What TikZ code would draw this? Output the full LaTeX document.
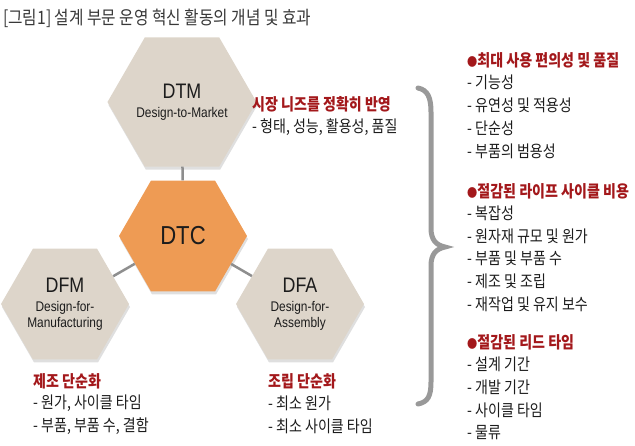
\documentclass[tikz,border=0pt]{standalone}
\usepackage{fontspec}
\setmainfont{Noto Sans CJK KR}[FakeStretch=0.85]
\newfontfamily\hexfont{Liberation Sans}[FakeStretch=0.85]
\usetikzlibrary{shapes.geometric,shadows}
\definecolor{hexbeige}{HTML}{DDD5CA}
\definecolor{hexorange}{HTML}{EE9B54}
\definecolor{linkgray}{HTML}{8E8E8E}
\definecolor{headred}{HTML}{A3181B}
\definecolor{bodytext}{HTML}{1C1C1C}
\newcommand{\hexbig}{\fontsize{21}{24}\selectfont}
\newcommand{\hexsmall}{\fontsize{14}{16}\selectfont}
\newcommand{\bulletdot}{{\fontsize{12}{12}\selectfont ●}}
\tikzset{
	hexa/.style={regular polygon,regular polygon sides=6,minimum size=128pt,inner sep=0pt,fill=hexbeige,align=center,text=bodytext,font=\hexfont,
		drop shadow={shadow xshift=1pt,shadow yshift=-3pt,opacity=.25}},
	link/.style={draw=linkgray,line width=2.5pt},
	head/.style={anchor=west,inner sep=0pt,text=headred,font=\fontsize{16.5}{18}\selectfont\bfseries},
	item/.style={anchor=west,inner sep=0pt,text=bodytext,font=\fontsize{16.5}{18}\selectfont},
}
\begin{document}
\begin{tikzpicture}[x=1pt,y=-1pt]
		\useasboundingbox(0,0)rectangle(635,445);
		\node[anchor=west,inner sep=0pt,text=black!78,font=\fontsize{18.5}{20}\selectfont](title)at(3,18){[그림1] 설계 부문 운영 혁신 활동의 개념 및 효과};
		% hexagons
		\node[hexa](dtm)at(182,102){\hexbig DTM\\[7pt]\hexsmall Design-to-Market};
		\node[hexa,fill=hexorange](dtc)at(183,236){\fontsize{26}{28}\selectfont DTC};
		\node[hexa](dfm)at(65,304){\hexbig DFM\\[7pt]\hexsmall Design-for-\\[2pt]\hexsmall Manufacturing};
		\node[hexa](dfa)at(300,304){\hexbig DFA\\[7pt]\hexsmall Design-for-\\[2pt]\hexsmall Assembly};
		\draw[link](dtm)--(dtc) (dtc)--(dfm) (dtc)--(dfa);
		% texts beside the hexagons
		\node[head](mkt)at(252,104){시장 니즈를 정확히 반영};
		\node[item](mkt1)at(252,127){- 형태, 성능, 활용성, 품질};
		\node[head](mfg)at(33,381){제조 단순화};
		\foreach \t [count=\i] in {{- 원가, 사이클 타임},{- 부품, 부품 수, 결함}}
			\node[item](mfg\i)at(33,381+22.7*\i){\t};
		\node[head](asm)at(268,381){조립 단순화};
		\foreach \t [count=\i] in {{- 최소 원가},{- 최소 사이클 타임}}
			\node[item](asm\i)at(268,381+22.7*\i){\t};
		% brace
		\draw[draw=linkgray!90,line width=5pt,line cap=round](418,88)..controls(428,90)and(431,98)..(431,112)--(431,228)
			..controls(431,240)and(436,245)..(445,247)..controls(436,249)and(431,254)..(431,266)--(431,382)
			..controls(431,396)and(428,402)..(418,404);
		% effects
		\node[head](use)at(467,60){\bulletdot 최대 사용 편의성 및 품질};
		\foreach \t [count=\i] in {기능성,유연성 및 적용성,단순성,부품의 범용성}
			\node[item](use\i)at(467,60+22.75*\i){- \t};
		\node[head](cost)at(467,191){\bulletdot 절감된 라이프 사이클 비용};
		\foreach \t [count=\i] in {복잡성,원자재 규모 및 원가,부품 및 부품 수,제조 및 조립,재작업 및 유지 보수}
			\node[item](cost\i)at(467,191+22.6*\i){- \t};
		\node[head](lead)at(467,342){\bulletdot 절감된 리드 타임};
		\foreach \t [count=\i] in {설계 기간,개발 기간,사이클 타임,물류}
			\node[item](lead\i)at(467,342+22.75*\i){- \t};
	\end{tikzpicture}
\end{document}
